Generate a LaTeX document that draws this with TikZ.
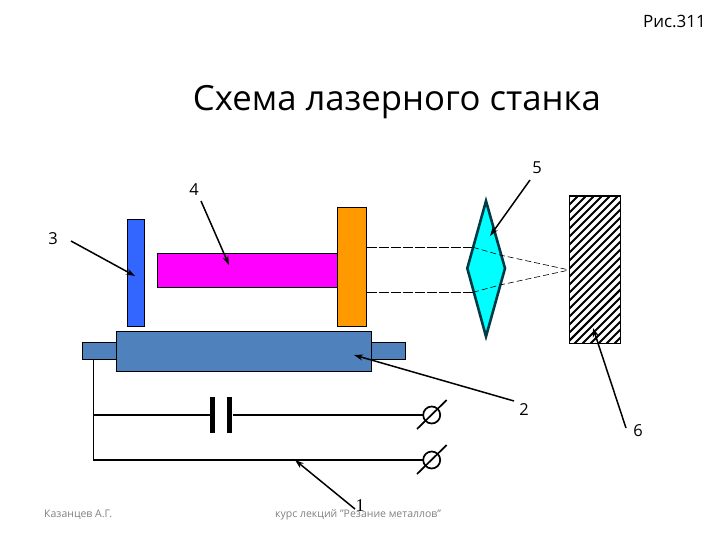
\documentclass[tikz,border=0pt]{standalone}
\usepackage{fontspec}
\usetikzlibrary{arrows.meta}
\setmainfont{Open Sans}
\newfontfamily\serifnum{Liberation Serif}
\definecolor{bluebar}{HTML}{3366FF}
\definecolor{basecol}{HTML}{4F81BD}
\definecolor{orangebar}{HTML}{FF9900}
\definecolor{magentabar}{HTML}{FF00FF}
\definecolor{lenscol}{HTML}{00FFFF}
\definecolor{lensedge}{HTML}{003A44}
\definecolor{footer}{HTML}{808080}
\tikzset{
  box/.style={draw=black,line width=1pt,inner sep=0pt,outer sep=0pt,anchor=north west},
  wire/.style={draw=black,line width=1.2pt},
  ptr/.style={draw=black,line width=1.5pt,-{Stealth[length=9pt,width=6pt]}},
  beam/.style={draw=black,line width=0.8pt,dash pattern=on 10pt off 2pt},
  thinbeam/.style={draw=black,line width=0.6pt,dash pattern=on 6pt off 3pt},
  lbl/.style={font=\fontsize{16.5}{18}\selectfont,inner sep=0pt},
  foot/.style={font=\fontsize{10.5}{12}\selectfont,text=footer,inner sep=0pt},
  capplate/.style={fill=black,draw=none,inner sep=0pt,minimum width=5.5pt,minimum height=36pt},
  term/.style={circle,draw=black,line width=1.7pt,minimum size=17pt,inner sep=0pt,outer sep=0pt},
  termslash/.style={draw=black,line width=1.7pt}
}
\begin{document}
\begin{tikzpicture}[x=1pt,y=-1pt]
\useasboundingbox (0,0) rectangle (720,540);
% machine parts
\node[box,fill=bluebar,minimum width=17.4pt,minimum height=107pt] (mirror) at (127.3,219.3) {};
\node[box,fill=magentabar,minimum width=180.2pt,minimum height=34pt] (rod) at (157.3,253.3) {};
\node[box,fill=orangebar,minimum width=29pt,minimum height=119pt] (outmirror) at (337.5,207.3) {};
\node[box,fill=basecol,minimum width=34pt,minimum height=17pt] (sideL) at (82.5,342.5) {};
\node[box,fill=basecol,minimum width=34pt,minimum height=17pt] (sideR) at (371.5,342.5) {};
\node[box,fill=basecol,minimum width=255pt,minimum height=39.7pt] (base) at (116.5,331.3) {};
% beams
\coordinate (b1) at (473,247.3);
\coordinate (b2) at (473,292.3);
\coordinate (focus) at (569.3,270);
\draw[beam] (outmirror.east |- b1) -- (b1);
\draw[beam] (outmirror.east |- b2) -- (b2);
% lens
\coordinate (lt) at (486,201);
\coordinate (lr) at (505,268.3);
\coordinate (lb) at (486,336.5);
\coordinate (ll) at (467.3,268.3);
\draw[fill=lenscol,draw=lensedge,line width=2.6pt,miter limit=10] (lt) -- (lr) -- (lb) -- (ll) -- cycle;
\draw[thinbeam] (b1) -- (500,255) -- (focus);
\draw[thinbeam] (b2) -- (500,285) -- (focus);
% workpiece
\node[box,minimum width=51.4pt,minimum height=147.3pt] (work) at (569.3,196) {};
\begin{scope}
\clip (work.north west) rectangle (work.south east);
\foreach \k in {0,...,30} {
  \draw[black,line width=1.8pt] (560+8*\k,350) -- ++(170,-170);
  \draw[black,line width=1.8pt] (560-8*\k,350) -- ++(170,-170);
}
\end{scope}
\draw[black,line width=1.3pt] (work.north west) rectangle (work.south east);
% circuit
\node[term] (t1) at (431.7,415) {};
\node[term] (t2) at (431.7,460) {};
\node[capplate] (c1) at (212.7,415) {};
\node[capplate] (c2) at (229.7,415) {};
\coordinate (j1) at (93.5,359.5);
\draw[wire] (j1) -- (93.5,460) -- (t2.west);
\draw[wire] (93.5,415) -- (c1.west);
\draw[wire] (c2.east) -- (t1.west);
\coordinate (s1a) at (417,429); \coordinate (s1b) at (446.7,400);
\coordinate (s2a) at (417,474); \coordinate (s2b) at (446.7,445);
\draw[termslash] (s1a) -- (s1b);
\draw[termslash] (s2a) -- (s2b);
% labels
\node[lbl] (l1) at (360,506) {\serifnum\fontsize{18}{20}\selectfont 1};
\node[lbl] (l2) at (524,410) {2};
\node[lbl] (l3) at (53,239) {3};
\node[lbl] (l4) at (194,190) {4};
\node[lbl] (l5) at (537,168) {5};
\node[lbl] (l6) at (638,431) {6};
% pointers
\coordinate (p1) at (355,509); \coordinate (q1) at (295,460);
\coordinate (p2) at (514,401); \coordinate (q2) at (354,355);
\coordinate (p3) at (71,241);  \coordinate (q3) at (135,276);
\coordinate (p4) at (201,201); \coordinate (q4) at (229,265);
\coordinate (p5) at (530,180); \coordinate (q5) at (490,236);
\coordinate (p6) at (626,428); \coordinate (q6) at (593,328);
\foreach \i in {1,...,6} \draw[ptr] (p\i) -- (q\i);
% text
\node[inner sep=0pt,font=\fontsize{34.7}{40}\selectfont] (title) at (397,102) {Схема лазерного станка};
\node[inner sep=0pt,anchor=east,font=\fontsize{17}{19}\selectfont] (fig) at (706,21) {Рис.311};
\node[foot,anchor=west] (author) at (44,515) {Казанцев А.Г.};
\node[foot,anchor=west] (course) at (275,515) {курс лекций "Резание металлов"};
\end{tikzpicture}
\end{document}
